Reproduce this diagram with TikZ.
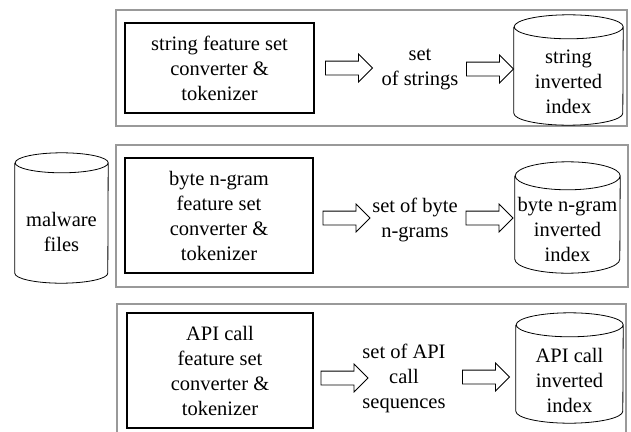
\documentclass[tikz,border=0pt]{standalone}
\usepackage{fontspec}
\setmainfont{Liberation Serif}
\usetikzlibrary{shapes.arrows,positioning}

\begin{document}
\begin{tikzpicture}[x=1pt, y=-1pt,
  panel/.style={rectangle, draw=black!40, line width=1.3pt, inner sep=0},
  conv/.style={rectangle, draw, line width=1.1pt, inner sep=0, align=center, font=\fontsize{20.5}{25}\selectfont},
  db/.style={rectangle, inner sep=0},
  dbline/.style={line width=0.8pt},
  dbtxt/.style={align=center, font=\fontsize{20.5}{25}\selectfont, yshift=-12pt},
  barrow/.style={single arrow, draw, line width=0.8pt, inner sep=6.5pt, single arrow head extend=7pt, minimum height=47},
  mid/.style={align=center, font=\fontsize{20.5}{25}\selectfont}
]
\useasboundingbox (0,0) rectangle (631,431);
\clip (0,0) rectangle (631,431);
% panels
\node[panel, minimum width=511, minimum height=116] (pstr) at (371.5,68) {};
\node[panel, minimum width=512, minimum height=142] (pbyte) at (372,216) {};
\node[panel, minimum width=509, minimum height=146] (papi) at (371.5,377) {};
% input
\node[db, minimum width=93, minimum height=130, label={[dbtxt, yshift=-2pt]center:malware\\files}] (mal) at (61.5,218) {};
% string features
\node[conv, minimum width=189, minimum height=90] (cstr) at (219.5,68) {string feature set\\converter \&\\tokenizer};
\node[barrow] (astr1) at (345.5,68) {};
\node[mid] (sstr) at (420,69.5) {set\\of strings};
\node[barrow] (astr2) at (486.5,69) {};
\node[db, minimum width=109, minimum height=110, label={[dbtxt]center:string\\inverted\\index}] (istr) at (568.5,70) {};
% byte n-gram features
\node[conv, minimum width=188, minimum height=115] (cbyte) at (219,215.5) {byte n-gram\\feature set\\converter \&\\tokenizer};
\node[barrow] (abyte1) at (343,218) {};
\node[mid] (sbyte) at (415,220) {set of byte\\n-grams};
\node[barrow] (abyte2) at (486,218) {};
\node[db, minimum width=105, minimum height=111, label={[dbtxt]center:byte n-gram\\inverted\\index}] (ibyte) at (567.5,217.5) {};
% API call features
\node[conv, minimum width=186, minimum height=115] (capi) at (220,370.5) {API call\\feature set\\converter \&\\tokenizer};
\node[barrow] (aapi1) at (341,378) {};
\node[mid] (sapi) at (404,378) {set of API\\call\\sequences};
\node[barrow] (aapi2) at (482.5,377) {};
\node[db, minimum width=107, minimum height=110, label={[dbtxt]center:API call\\inverted\\index}] (iapi) at (569.5,368) {};
% cylinder outlines
\foreach \n/\w/\r in {mal/46.5/10, istr/54.5/12, ibyte/52.5/14, iapi/53.5/12}
  \draw[dbline] ([yshift=-\r pt]\n.north west) -- ([yshift=\r pt]\n.south west)
    arc[start angle=180, end angle=360, x radius=\w pt, y radius=\r pt]
    -- ([yshift=-\r pt]\n.north east)
    arc[start angle=0, end angle=360, x radius=\w pt, y radius=\r pt];
\end{tikzpicture}
\end{document}
